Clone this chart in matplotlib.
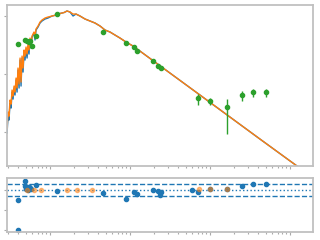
import matplotlib
matplotlib.use("Agg")
from matplotlib import pyplot as plt

# model spectrum (wavelength in micron, flux)
wave = [0.0290, 0.0299, 0.0307, 0.0316, 0.0326, 0.0335, 0.0345, 0.0355, 0.0365, 0.0376,
        0.0387, 0.0398, 0.0410, 0.0422, 0.0434, 0.0447, 0.0460, 0.0473, 0.0487, 0.0501,
        0.0516, 0.0531, 0.0546, 0.0562, 0.0579, 0.0596, 0.0631, 0.0649, 0.0668, 0.0708,
        0.0750, 0.0794, 0.0866,
        0.0944, 0.106, 0.119, 0.133, 0.150, 0.163, 0.178, 0.194, 0.211, 0.237,
        0.274, 0.316, 0.365, 0.422, 0.487, 0.562, 0.649, 0.750, 0.891, 1.09,
        1.33, 7.50, 42.2, 133.0]
flux_model = [9.24e-5, 3.56e-4, 2.59e-4, 1.00e-3, 6.73e-4, 2.39e-3, 1.37e-3, 3.29e-3, 1.89e-3, 6.21e-3,
              2.39e-3, 1.37e-2, 3.29e-3, 3.04e-2, 3.86e-3, 3.56e-2, 1.17e-2, 5.74e-2, 3.04e-2, 7.28e-2,
              3.56e-2, 9.24e-2, 4.89e-2, 0.149, 7.88e-2, 0.189, 0.259, 0.149, 0.329, 0.418,
              0.574, 0.673, 0.788,
              0.853, 1.00, 1.08, 1.22, 1.32, 1.49, 1.37, 1.00, 1.17, 1.00,
              0.788, 0.673, 0.574, 0.452, 0.329, 0.281, 0.221, 0.174, 0.127, 0.0924,
              0.0621, 1.89e-3, 5.74e-5, 5.74e-6]
flux_fit = [1.37e-4, 4.89e-4, 3.56e-4, 1.27e-3, 9.24e-4, 2.81e-3, 1.74e-3, 3.86e-3, 2.39e-3, 7.28e-3,
            3.29e-3, 1.61e-2, 4.52e-3, 3.56e-2, 5.30e-3, 4.17e-2, 1.61e-2, 6.73e-2, 4.17e-2, 8.53e-2,
            4.89e-2, 0.108, 6.73e-2, 0.174, 0.108, 0.204, 0.281, 0.204, 0.356, 0.452,
            0.621, 0.728, 0.853,
            0.924, 1.00, 1.08, 1.22, 1.32, 1.49, 1.37, 1.17, 1.17, 1.00,
            0.788, 0.673, 0.574, 0.452, 0.329, 0.281, 0.221, 0.174, 0.127, 0.0924,
            0.0621, 1.89e-3, 5.74e-5, 5.74e-6]

# photometry
phot_wave = [0.040, 0.0487, 0.0516, 0.0546, 0.0562, 0.0596, 0.0668, 0.122, 0.460, 0.891,
             1.12, 1.22, 1.94, 2.24, 2.44, 7.08, 10.0, 16.3, 25.1, 34.5, 50.1]
phot_flux = [0.108, 0.149, 0.137, 0.127, 0.137, 0.0924, 0.204, 1.17, 0.281, 0.117,
             0.0853, 0.0621, 0.0281, 0.0189, 0.0161, 1.49e-3, 1.17e-3, 7.28e-4, 1.89e-3, 2.39e-3, 2.39e-3]
phot_err = [0.002, 0.003, 0.003, 0.003, 0.003, 0.002, 0.004, 0.02, 0.005, 0.002,
            0.0015, 0.001, 0.0005, 0.0004, 0.0003, 6e-4, 2.8e-4, 6.4e-4, 7.5e-4, 7.5e-4, 7.5e-4]

# residuals
res_wave = [0.040, 0.040, 0.0487, 0.0487, 0.0516, 0.0546, 0.0546, 0.0562, 0.0579, 0.0501, 0.0531,
            0.0668, 0.122, 0.460, 0.891, 1.12, 1.22, 1.94, 2.24, 2.44, 2.37,
            5.96, 7.08, 10.0, 16.3, 25.1, 34.5, 50.1]
res_val = [-4.9, -19.9, 4.6, 2.1, 1.1, 1.6, 1.6, 1.1, 0.6, 0.6, 0.1,
           2.9, -0.4, -1.4, -4.4, -0.9, -1.9, 0.1, -0.4, -0.9, -2.4,
           0.1, -0.9, 0.6, 0.6, 2.1, 3.1, 3.1]
res2_wave = [0.0516, 0.0631, 0.0772, 0.163, 0.218, 0.335, 7.29, 10.0, 16.3]
res2_val = [0.0, 0.0, 0.0, 0.0, 0.0, 0.0, 0.5, 0.5, 0.5]

fig = plt.figure(figsize=(3.2, 2.4), dpi=100)
ax = fig.add_axes([0.022, 0.308, 0.956, 0.671])
axr = fig.add_axes([0.022, 0.033, 0.956, 0.225], sharex=ax)

ax.plot(wave, flux_model, color='C0', lw=1.0)
ax.plot(wave, flux_fit, color='C1', lw=1.0)
ax.errorbar(phot_wave, phot_flux, yerr=phot_err, fmt='o', color='C2', ms=3, elinewidth=1, capsize=0)
ax.set_xscale('log')
ax.set_yscale('log')
ax.set_xlim(0.029, 194)
ax.set_ylim(6.73e-6, 2.39)

axr.axhline(0, color='C0', ls=':', lw=1)
axr.axhline(3, color='C0', ls='--', lw=1)
axr.axhline(-3, color='C0', ls='--', lw=1)
axr.plot(res_wave, res_val, 'o', color='C0', ms=3)
axr.plot(res2_wave, res2_val, 'o', color='C1', ms=3, alpha=0.5)
axr.set_ylim(-20.85, 6.15)
axr.set_yticks([0, -10, -20])

for a in (ax, axr):
    for s in a.spines.values():
        s.set_color('#c0c0c0')
        s.set_linewidth(1.3)
    a.tick_params(which='both', length=2, width=0.8, color='#aaaaaa', labelleft=False, labelbottom=False)
    a.tick_params(which='minor', length=1.5)

fig.savefig('out.png', dpi=100)
